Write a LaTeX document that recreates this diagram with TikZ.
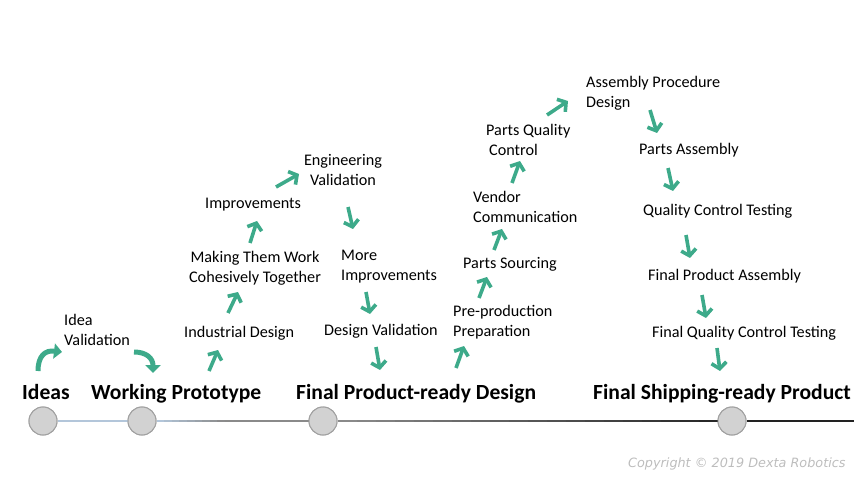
\documentclass[tikz,border=0pt]{standalone}
\usepackage{fontspec}
\setmainfont{Carlito}
\newfontfamily\cpfont{DejaVu Sans}
\usetikzlibrary{arrows.meta,calc}
\definecolor{arrteal}{HTML}{3DAA8A}
\definecolor{circfill}{HTML}{D2D2D2}
\definecolor{circdraw}{HTML}{A0A0A0}
\definecolor{linelight}{HTML}{B3C6DA}
\definecolor{linemid}{HTML}{8A8A8A}
\definecolor{linedark}{HTML}{222222}
\definecolor{cpgray}{HTML}{BDBDBD}
\begin{document}
\begin{tikzpicture}[x=1pt,y=-1pt,
  lbl/.style={font=\fontsize{16.2}{19.5}\selectfont, inner sep=0pt, anchor=base west, align=left},
  clbl/.style={font=\fontsize{16.2}{19.5}\selectfont, inner sep=0pt, anchor=base, align=center},
  big/.style={font=\fontsize{21.6}{24}\selectfont\bfseries, inner sep=0pt, anchor=base west},
  mile/.style={circle, fill=circfill, draw=circdraw, line width=1pt, minimum size=28pt, inner sep=0pt},
  steparrow/.style={draw=arrteal, line width=3.6pt, -{Straight Barb[length=6pt,width=15pt]}},
  curvearrow/.style={draw=arrteal, line width=5pt, -{Triangle[length=8pt,width=15pt]}},
  tline/.style={line width=2.6pt}
]
\useasboundingbox (0,0) rectangle (864,486);

% timeline
\node[mile] (c1) at (43,421) {};
\node[mile] (c2) at (142,421) {};
\node[mile] (c3) at (323,421) {};
\node[mile] (c4) at (732,421) {};
\coordinate (lend) at (854,421);
\draw[linelight, tline] (c1.east) -- (c2.west);
\foreach \i in {0,...,19}{
  \pgfmathsetmacro{\pa}{\i/20}
  \pgfmathsetmacro{\pb}{(\i+1)/20+0.01}
  \pgfmathtruncatemacro{\mix}{100-min(100,\i*12)}
  \draw[tline, color=linelight!\mix!linemid] ($(c2.east)!\pa!(c3.west)$) -- ($(c2.east)!\pb!(c3.west)$);
}
\foreach \i in {0,...,19}{
  \pgfmathsetmacro{\pa}{\i/20}
  \pgfmathsetmacro{\pb}{min(1,(\i+1)/20+0.01)}
  \pgfmathtruncatemacro{\mix}{100-\i*5}
  \draw[tline, color=linemid!\mix!linedark] ($(c3.east)!\pa!(c4.west)$) -- ($(c3.east)!\pb!(c4.west)$);
}
\draw[linedark, tline] (c4.east) -- (lend);
\node[mile] at (c1) {};
\node[mile] at (c2) {};
\node[mile] at (c3) {};
\node[mile] at (c4) {};

% milestone labels
\node[big] (ideas) at (22,399) {Ideas};
\node[big] (proto) at (91,399) {Working Prototype};
\node[big] (design) at (296,399) {Final Product-ready Design};
\node[big] (ship) at (593,399) {Final Shipping-ready Product};

% step labels
\node[lbl] (idea) at (64,345.3) {Idea\\Validation};
\node[lbl] (ind) at (184,337.3) {Industrial Design};
\node[clbl] (mak) at (255,282.3) {Making Them Work\\Cohesively Together};
\node[lbl] (imp) at (205,208.3) {Improvements};
\node[clbl] (eng) at (343,185.3) {Engineering\\Validation};
\node[lbl] (more) at (341,280.3) {More\\Improvements};
\node[lbl] (dv) at (324,335.3) {Design Validation};
\node[lbl] (pre) at (453,336.3) {Pre-production\\Preparation};
\node[lbl] (ps) at (463,268.3) {Parts Sourcing};
\node[lbl] (ven) at (473,222.3) {Vendor\\Communication};
\node[lbl] (pq) at (486,155.3) {Parts Quality\\\hspace{3pt}Control};
\node[lbl] (apd) at (586,107.3) {Assembly Procedure\\Design};
\node[lbl] (pa) at (639,154.3) {Parts Assembly};
\node[lbl] (qct) at (643,215.3) {Quality Control Testing};
\node[lbl] (fpa) at (648,280.3) {Final Product Assembly};
\node[lbl] (fqct) at (652,337.3) {Final Quality Control Testing};

\node[font=\cpfont\fontsize{12.8}{14}\selectfont\itshape, text=cpgray, inner sep=0pt, anchor=base west] (copy) at (628,467.3) {Copyright © 2019 Dexta Robotics};

% curved arrows
\coordinate (k1t) at (38,371);
\coordinate (k1h) at (62,352);
\draw[curvearrow] (k1t) .. controls (38,356) and (45,350) .. (k1h);
\coordinate (k2t) at (134,352);
\coordinate (k2h) at (153,373);
\draw[curvearrow] (k2t) .. controls (146,352) and (153,358) .. (k2h);

% straight step arrows
\foreach \n/\tx/\ty/\hx/\hy in {
  1/209/371/218/350, 2/228/313/238/292, 3/250/243/257/221, 4/276/187/299/174,
  5/348/207/353/229, 6/366/292/370/314, 7/376/347/380/370,
  8/456/368/464/346, 9/479/298/487/277, 10/494/250/502/229, 11/512/183/520/161,
  12/547/115/568/101,
  13/650/110/657/133, 14/668/168/673/191, 15/686/235/690/258, 16/702/295/706/318, 17/717/348/720/371}
{
  \coordinate (t\n) at (\tx,\ty);
  \coordinate (h\n) at (\hx,\hy);
  \draw[steparrow] (t\n) -- (h\n);
}
\end{tikzpicture}
\end{document}
